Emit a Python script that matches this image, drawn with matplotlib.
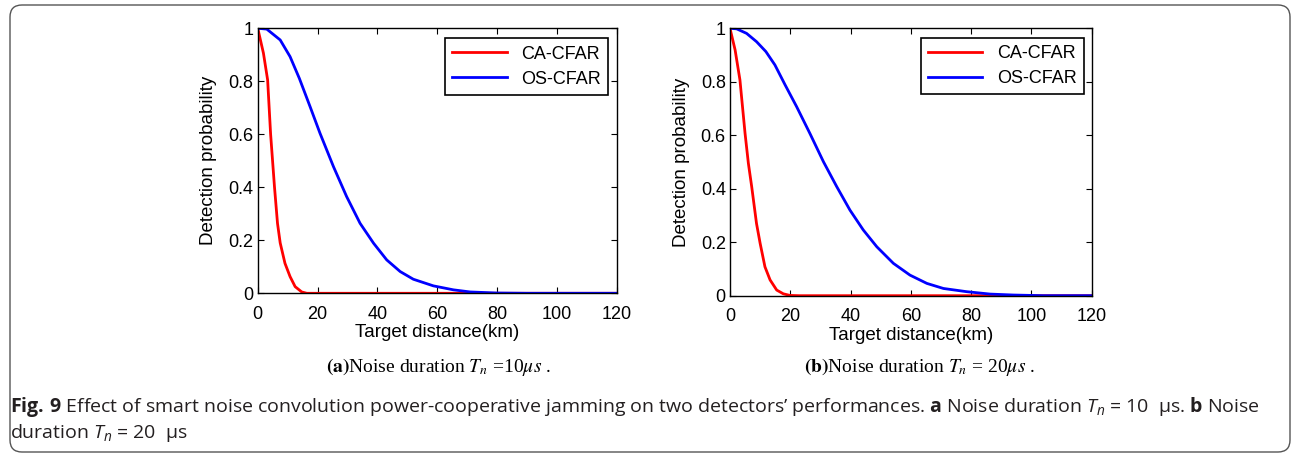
import matplotlib
matplotlib.use('Agg')
import matplotlib.pyplot as plt
from matplotlib.patches import FancyBboxPatch
from matplotlib.transforms import IdentityTransform

plt.rcParams['font.family'] = ['Liberation Sans', 'DejaVu Sans']
plt.rcParams['mathtext.rm'] = 'Open Sans'
plt.rcParams['mathtext.it'] = 'Open Sans:italic'
plt.rcParams['mathtext.bf'] = 'Open Sans:bold'

# curves
# (a) Tn = 10 us
ca_a_x = [0, 1.9, 3.3, 4.3, 5.6, 6.6, 7.5, 9.1, 10.8, 12.5, 14.7, 16.4, 120]
ca_a_y = [1.0, 0.906, 0.805, 0.6, 0.4, 0.264, 0.19, 0.113, 0.063,
          0.025, 0.005, 0.0, 0.0]
os_a_x = [0, 3, 7.5, 10.8, 13.9, 17.5, 20.8, 25.3, 29.7, 34.2, 38.7, 43.1,
          47.6, 52, 58.7, 65.4, 71, 80, 90, 120]
os_a_y = [1.0, 0.997, 0.956, 0.893, 0.811, 0.704, 0.604, 0.478, 0.365, 0.264,
          0.189, 0.126, 0.082, 0.053, 0.028, 0.013, 0.005, 0.001, 0.0, 0.0]
# (b) Tn = 20 us
ca_b_x = [0, 1.7, 3.3, 5, 6.1, 7.2, 8.8, 10, 11.6, 13.3, 15.5, 17.7,
          19.9, 23, 120]
ca_b_y = [1.0, 0.919, 0.807, 0.607, 0.495, 0.408, 0.27, 0.196, 0.108,
          0.059, 0.021, 0.007, 0.001, 0.0, 0.0]
os_b_x = [0, 2.2, 5.5, 8.8, 11.9, 14.9, 18.3, 22.1, 26.5, 31, 35.4, 39.8,
          44.2, 48.7, 54.2, 59.7, 65.3, 70.8, 78.5, 86.3, 94, 104, 120]
os_b_y = [1.0, 0.998, 0.981, 0.95, 0.913, 0.863, 0.788, 0.707, 0.607, 0.501,
          0.408, 0.32, 0.246, 0.183, 0.121, 0.077, 0.046, 0.027, 0.015, 0.006,
          0.0025, 0.0, 0.0]

xticks = [0, 20, 40, 60, 80, 100, 120]
yticks = [0, 0.2, 0.4, 0.6, 0.8, 1]
ytick_labels = ['0', '0.2', '0.4', '0.6', '0.8', '1']
legend_names = ['CA-CFAR', 'OS-CFAR']

fig = plt.figure(figsize=(12.92, 4.54), dpi=100)

panels = [
    ([0.1995, 0.354, 0.2779, 0.5837], ca_a_x, ca_a_y, os_a_x, os_a_y,
     (0.9757, 0.962),
     r'$\mathbf{(a)}$' + r'Noise duration $T_{n}$ =10$\mu s$ .', 0.3395),
    ([0.5650, 0.3487, 0.2800, 0.5890], ca_b_x, ca_b_y, os_b_x, os_b_y,
     (0.978, 0.965),
     r'$\mathbf{(b)}$' + r'Noise duration $T_{n}$ = 20$\mu s$ .', 0.7115),
]

for rect, cx, cy, ox, oy, leg_anchor, sub, subx in panels:
    ax = fig.add_axes(rect)
    ax.plot(cx, cy, color='#ff0000', lw=2.0, label=legend_names[0])
    ax.plot(ox, oy, color='#0000ff', lw=2.0, label=legend_names[1])
    ax.set_xlim(0, 120)
    ax.set_ylim(0, 1)
    ax.set_xticks(xticks)
    ax.set_yticks(yticks)
    ax.set_yticklabels(ytick_labels)
    ax.tick_params(direction='in', top=True, right=True, length=4,
                   labelsize=13)
    ax.tick_params(axis='x', pad=9)
    ax.tick_params(axis='y', pad=3)
    for s in ax.spines.values():
        s.set_linewidth(1.0)
    ax.set_xlabel('Target distance(km)', fontsize=13.5, labelpad=1)
    ax.set_ylabel('Detection probability', fontsize=13.5, labelpad=8)
    leg = ax.legend(loc='upper right', bbox_to_anchor=leg_anchor,
                    fancybox=False, framealpha=1, edgecolor='black',
                    fontsize=13, handlelength=3.0, borderpad=0.4,
                    labelspacing=0.45, borderaxespad=0)
    leg.get_frame().set_linewidth(1.2)
    fig.text(subx, 0.191, sub, ha='center', va='center', fontsize=14,
             family='Liberation Serif', math_fontfamily='stix')

# caption
cap1 = (r'$\mathbf{Fig.\,9}$ Effect of smart noise convolution power-cooperative '
        r'jamming on two detectors’ performances. $\mathbf{a}$ Noise duration '
        r'$T_n$ = 10  μs. $\mathbf{b}$ Noise')
cap2 = r'duration $T_n$ = 20  μs'
fig.text(0.0075, 0.104, cap1, ha='left', va='center', fontsize=14,
         family='Open Sans', color='#231f20', math_fontfamily='custom')
fig.text(0.0075, 0.046, cap2, ha='left', va='center', fontsize=14,
         family='Open Sans', color='#231f20', math_fontfamily='custom')

box = FancyBboxPatch((10, 2), 1280, 447, boxstyle='round,pad=0,rounding_size=12',
                     transform=IdentityTransform(), fill=False,
                     edgecolor='#555555', lw=1.0)
fig.add_artist(box)

fig.savefig('out.png', dpi=100)
